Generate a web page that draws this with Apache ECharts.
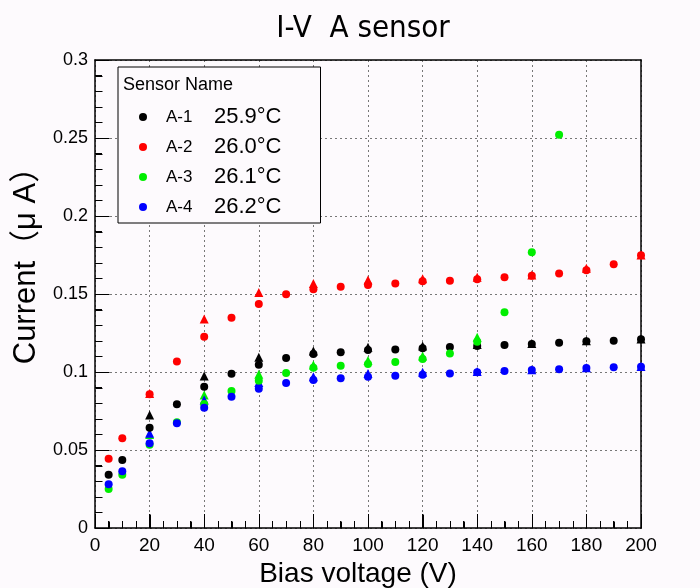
<!DOCTYPE html>
<html><head><meta charset="utf-8">
<script src="https://cdn.jsdelivr.net/npm/echarts@6/dist/echarts.min.js"></script>
<style>html,body{margin:0;padding:0;background:#fdfafd}#c{width:700px;height:588px}</style>
</head><body><div id="c"></div>
<script>
// Bias voltages (V)
const voltsCircle = [5,10,20,30,40,50,60,70,80,90,100,110,120,130,140,150,160,170,180,190,200];
const voltsTri = [20,40,60,80,100,120,140,160,180,200];
const sensorNames = ['A-1','A-2','A-3','A-4'];
const sensorTemps = ['25.9°C','26.0°C','26.1°C','26.2°C'];
const sensorColors = ['#000000','#ff0000','#00ee00','#0000ff'];
// Current (uA), circle markers
const a1 = [0.0342,0.0436,0.0643,0.0793,0.0906,0.0989,0.1047,0.1090,0.1115,0.1126,0.1141,0.1145,0.1152,0.1160,0.1167,0.1173,0.1180,0.1188,0.1197,0.1201,0.1210];
const a2 = [0.0444,0.0575,0.0857,0.1068,0.1226,0.1348,0.1436,0.1498,0.1530,0.1547,0.1558,0.1568,0.1581,0.1585,0.1594,0.1607,0.1617,0.1632,0.1652,0.1690,0.1748];
const a3 = [0.0250,0.0342,0.0534,0.0678,0.0795,0.0878,0.0944,0.0994,0.1028,0.1040,0.1051,0.1064,0.1083,0.1118,0.1194,0.1383,0.1767,0.2521];
const a4 = [0.0280,0.0363,0.0543,0.0672,0.0771,0.0842,0.0893,0.0929,0.0949,0.0960,0.0970,0.0976,0.0983,0.0991,0.0998,0.1006,0.1013,0.1017,0.1026,0.1030,0.1034];
// Current (uA), triangle markers
const a1t = [0.0724,0.0974,0.1094,0.1135,0.1158,0.1167,0.1177,0.1183,0.1200,0.1212];
const a2t = [0.0862,0.1340,0.1509,0.1568,0.1590,0.1598,0.1607,0.1622,0.1665,0.1750];
const a3t = [0.0600,0.0853,0.0985,0.1045,0.1073,0.1103,0.1222];
const a4t = [0.0607,0.0820,0.0932,0.0970,0.0991,0.0998,0.1003,0.1015,0.1028,0.1036];
// Tick positions (axis values)
const xMajorTicks = [0,20,40,60,80,100,120,140,160,180,200];
const xMinorTicks = [5,10,15,25,30,35,45,50,55,65,70,75,85,90,95,105,110,115,125,130,135,145,150,155,165,170,175,185,190,195];
const yMajorTicks = [0,0.05,0.1,0.15,0.2,0.25,0.3];
const yMinorTicks = [0.01,0.02,0.03,0.04,0.06,0.07,0.08,0.09,0.11,0.12,0.13,0.14,0.16,0.17,0.18,0.19,0.21,0.22,0.23,0.24,0.26,0.27,0.28,0.29];

const circleData = [a1,a2,a3,a4];
const triData = [a1t,a2t,a3t,a4t];
const pair = (xs, ys) => ys.map((v,i) => [xs[i], v]);
const FONT = "'Liberation Sans', Arial, sans-serif";

const series = [];
circleData.forEach((d,i) => series.push({
  name: sensorNames[i], type: 'scatter', symbol: 'circle', symbolSize: 8,
  itemStyle: {color: sensorColors[i], opacity: 1}, data: pair(voltsCircle, d), z: 3
}));
triData.forEach((d,i) => series.push({
  name: sensorNames[i] + ' tri', type: 'scatter', symbol: 'triangle', symbolSize: 9,
  itemStyle: {color: sensorColors[i], opacity: 1}, data: pair(voltsTri, d), z: 2
}));

// Tick marks drawn through the axis scales
function tickSeries(vals, isX, len) {
  return {
    type: 'custom', silent: true, clip: false, z: 4,
    data: vals.map(v => isX ? [v, 0] : [0, v]),
    renderItem: (params, api) => {
      const p = api.coord([api.value(0), api.value(1)]);
      const x = Math.round(p[0]) + 0.5, y = Math.round(p[1]) + 0.5;
      return {
        type: 'line',
        shape: isX ? {x1: x, y1: y, x2: x, y2: y - len} : {x1: x, y1: y, x2: x + len, y2: y},
        style: {stroke: '#000', lineWidth: 1}
      };
    }
  };
}
series.push(tickSeries(xMajorTicks, true, 14));
series.push(tickSeries(xMinorTicks, true, 7));
series.push(tickSeries(yMajorTicks, false, 14));
series.push(tickSeries(yMinorTicks, false, 7));

const frameAxis = {
  type: 'value', axisLine: {show: true, onZero: false, lineStyle: {color: '#000', width: 1.5}},
  axisTick: {show: false}, axisLabel: {show: false}, splitLine: {show: false}, minorTick: {show: false}
};

const chart = echarts.init(document.getElementById('c'), null, {renderer: 'canvas'});
chart.setOption({
  backgroundColor: '#fdfafd',
  animation: false,
  title: {
    text: 'I-V  A sensor', left: 358, textAlign: 'center', top: 8,
    textStyle: {fontFamily: "'Liberation Sans Narrow','DejaVu Sans Condensed', Arial, sans-serif", fontSize: 31, fontWeight: 'normal', color: '#000'}
  },
  grid: {left: 95, right: 59, top: 60, bottom: 60, containLabel: false, outerBoundsMode: 'none'},
  legend: {
    data: sensorNames, orient: 'vertical', left: 118, top: 67,
    padding: [39, 39, 5, 21], itemGap: 8, itemWidth: 8, itemHeight: 8,
    backgroundColor: '#fdfafd', borderColor: '#000', borderWidth: 1,
    icon: 'circle',
    formatter: name => '{n|' + name + '}{t|' + sensorTemps[sensorNames.indexOf(name)] + '}',
    textStyle: {
      color: '#000', fontFamily: FONT,
      rich: {
        n: {fontSize: 17, width: 48, padding: [0,0,0,14], lineHeight: 24, fontFamily: FONT},
        t: {fontSize: 22, lineHeight: 24, fontFamily: FONT}
      }
    }
  },
  graphic: [
    {type: 'text', left: 123, top: 76, z: 100, style: {text: 'Sensor Name', font: "18px 'Liberation Sans', Arial, sans-serif", fill: '#000'}}
  ],
  xAxis: [{
    type: 'value', min: 0, max: 200, interval: 20,
    name: 'Bias voltage (V)', nameLocation: 'middle', nameGap: 31,
    nameTextStyle: {fontFamily: FONT, fontSize: 28, color: '#000', padding: [0,20,0,0]},
    axisLine: {show: true, onZero: false, lineStyle: {color: '#000', width: 1.5}},
    axisTick: {show: true, inside: true, length: 14, lineStyle: {color: '#000', width: 1}},
    minorTick: {show: true, splitNumber: 4, length: 7, lineStyle: {color: '#000', width: 1}},
    axisLabel: {fontFamily: FONT, fontSize: 19, color: '#000', margin: 8},
    splitLine: {show: true, lineStyle: {color: '#777', type: [2,3], width: 1}}
  }, Object.assign({position: 'top', min: 0, max: 200}, frameAxis)],
  yAxis: [{
    type: 'value', min: 0, max: 0.3, interval: 0.05,
    name: 'Current（μ A）', nameLocation: 'middle', nameGap: 50, nameRotate: 90,
    nameTextStyle: {fontFamily: "'Liberation Sans','Noto Sans CJK JP', Arial, sans-serif", fontSize: 31, color: '#000', padding: [0,0,0,72]},
    axisLine: {show: true, onZero: false, lineStyle: {color: '#000', width: 1.5}},
    axisTick: {show: true, inside: true, length: 14, lineStyle: {color: '#000', width: 1}},
    minorTick: {show: true, splitNumber: 5, length: 7, lineStyle: {color: '#000', width: 1}},
    axisLabel: {fontFamily: FONT, fontSize: 18, color: '#000', margin: 7,
      formatter: v => v === 0 ? '0' : String(+v.toFixed(2))},
    splitLine: {show: true, lineStyle: {color: '#777', type: [2,3], width: 1}}
  }, Object.assign({position: 'right', min: 0, max: 0.3}, frameAxis)],
  series: series
});
</script></body></html>
